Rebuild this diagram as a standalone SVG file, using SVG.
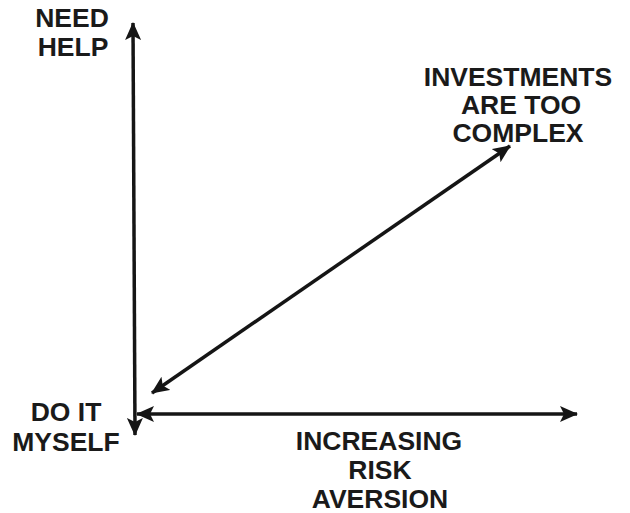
<svg xmlns="http://www.w3.org/2000/svg" width="630" height="513" viewBox="0 0 630 513">
  <style>
    .lbl { font-family: "Liberation Sans", Arial, sans-serif; font-weight: bold; font-size: 26.5px; fill: #1a1a1a; text-anchor: middle; }
    .axis { stroke: #151515; stroke-width: 3.5; fill: none; }
  </style>
  <defs>
    <marker id="head" viewBox="0 0 18 16" refX="17" refY="8" markerWidth="18" markerHeight="16" markerUnits="userSpaceOnUse" orient="auto-start-reverse">
      <path d="M0,0 L18,8 L0,16 L4,8 Z" fill="#151515"/>
    </marker>
  </defs>
  <rect width="630" height="513" fill="#ffffff"/>

  <g id="connectors">
    <line class="axis" x1="133" y1="23" x2="135" y2="435" marker-start="url(#head)" marker-end="url(#head)"/>
    <line class="axis" x1="137" y1="414" x2="577" y2="414" marker-start="url(#head)" marker-end="url(#head)"/>
    <line class="axis" x1="152" y1="393" x2="510" y2="146" marker-start="url(#head)" marker-end="url(#head)"/>
  </g>

  <g id="need-help">
    <text class="lbl" x="72" y="27">NEED</text>
    <text class="lbl" x="73" y="56">HELP</text>
  </g>

  <g id="do-it-myself">
    <text class="lbl" x="66" y="421">DO IT</text>
    <text class="lbl" x="66" y="451">MYSELF</text>
  </g>

  <g id="investments-complex">
    <text class="lbl" x="518" y="86">INVESTMENTS</text>
    <text class="lbl" x="521" y="114">ARE TOO</text>
    <text class="lbl" x="518" y="142">COMPLEX</text>
  </g>

  <g id="risk-aversion">
    <text class="lbl" x="379" y="450">INCREASING</text>
    <text class="lbl" x="380" y="479">RISK</text>
    <text class="lbl" x="380" y="508">AVERSION</text>
  </g>
</svg>
